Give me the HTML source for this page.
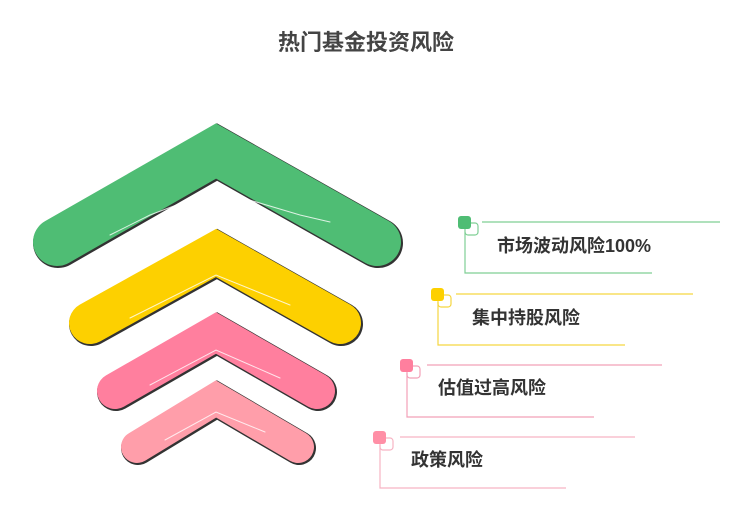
<!DOCTYPE html><html><head><meta charset="utf-8"><style>
body{margin:0;width:733px;height:513px;background:#fff;overflow:hidden;font-family:"Liberation Sans","Noto Sans CJK SC",sans-serif}
</style></head><body>
<svg width="733" height="513" xmlns="http://www.w3.org/2000/svg" style="position:absolute;left:0;top:0">
<text x="366" y="50" text-anchor="middle" font-size="22" font-weight="bold" fill="#444" font-family="Liberation Sans,Noto Sans CJK SC,sans-serif">热门基金投资风险</text>
<g fill="none" stroke-linecap="round" stroke-linejoin="miter">
<polyline points="57,242 216,151 377,242" stroke="#333" stroke-width="50" transform="translate(1,1)"/>
<polyline points="57,242 216,151 377,242" stroke="#4fbd74" stroke-width="48"/>
<polyline points="90,323 216,253 340,323" stroke="#333" stroke-width="44" transform="translate(1,1)"/>
<polyline points="90,323 216,253 340,323" stroke="#fdd000" stroke-width="42"/>
<polyline points="115,391 216,333 317,391" stroke="#333" stroke-width="38" transform="translate(1,1)"/>
<polyline points="115,391 216,333 317,391" stroke="#ff7f9e" stroke-width="36"/>
<polyline points="137,447 216,399 298,447" stroke="#333" stroke-width="34" transform="translate(1,1)"/>
<polyline points="137,447 216,399 298,447" stroke="#ff9eaa" stroke-width="32"/>
<g stroke="#fff" stroke-width="1" opacity="0.8">
<polyline points="110,235 150,215 216,190 300,215 330,222"/>
<polyline points="130,318 216,275 290,305"/>
<polyline points="150,385 216,350 280,378"/>
<polyline points="165,440 216,412 265,432"/>
</g>
</g>
<g font-family="Liberation Sans,Noto Sans CJK SC,sans-serif" font-weight="bold" fill="#333" font-size="18">
<g stroke="#7fcf95" fill="none" stroke-width="1.2"><path d="M482,222H720M465,232V273H652"/><rect x="465" y="223" width="13" height="12" rx="3"/></g>
<rect x="458" y="216" width="13" height="13" rx="3" fill="#4fbd74"/>
<text x="497" y="252">市场波动风险100%</text>
<g stroke="#f5d640" fill="none" stroke-width="1.2"><path d="M456,294H693M438,302V345H625"/><rect x="438" y="295" width="13" height="12" rx="3"/></g>
<rect x="431" y="288" width="13" height="13" rx="3" fill="#fdd000"/>
<text x="472" y="324">集中持股风险</text>
<g stroke="#f2a0b8" fill="none" stroke-width="1.2"><path d="M427,365H662M407,373V417H594"/><rect x="407" y="366" width="13" height="12" rx="3"/></g>
<rect x="400" y="359" width="13" height="13" rx="3" fill="#ff7f9e"/>
<text x="438" y="394">估值过高风险</text>
<g stroke="#f7b3c3" fill="none" stroke-width="1.2"><path d="M400,437H635M380,445V488H566"/><rect x="380" y="438" width="13" height="12" rx="3"/></g>
<rect x="373" y="431" width="13" height="13" rx="3" fill="#ff8fa6"/>
<text x="411" y="466">政策风险</text>
</g>
</svg>
</body></html>
